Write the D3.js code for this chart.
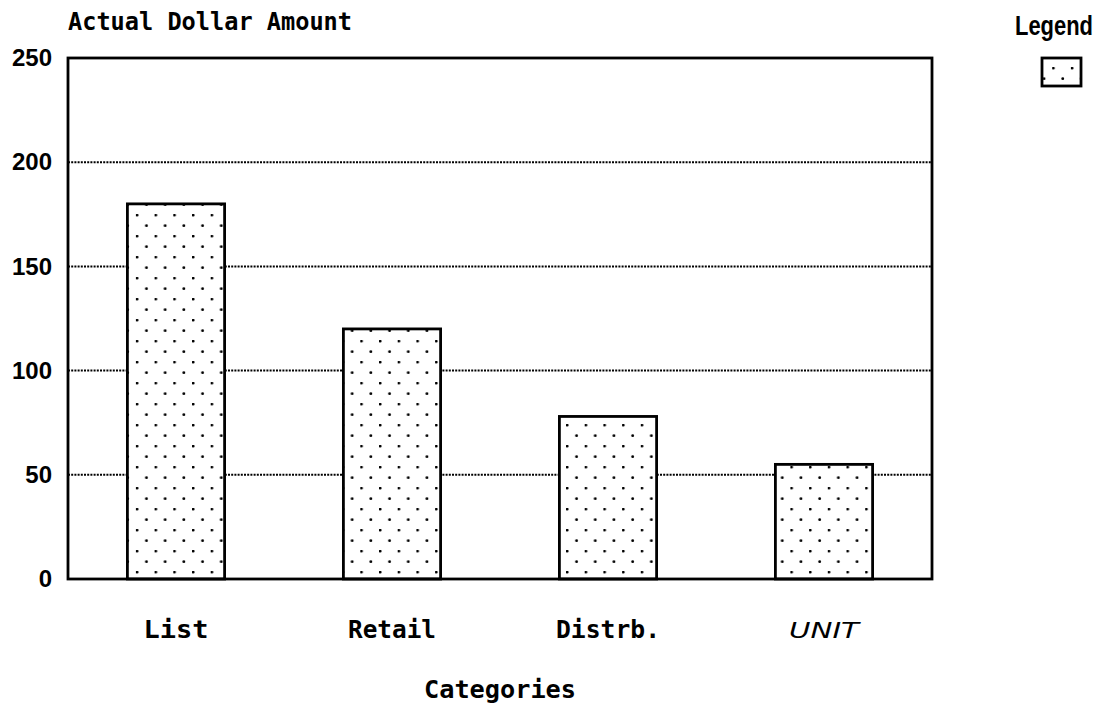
<!DOCTYPE html>
<html>
<head>
<meta charset="utf-8">
<script src="https://cdn.jsdelivr.net/npm/d3@7"></script>
<style>
  html, body { margin: 0; padding: 0; background: #fff; }
  svg { display: block; }
</style>
</head>
<body>
<div id="chart"></div>
<script>
// Chart data
const categories = ["List", "Retail", "Distrb.", "UNIT"];
const amounts = [180, 120, 78, 55];
const yTicks = [0, 50, 100, 150, 200, 250];

const width = 1114;
const height = 711;
const marginTop = 58;
const marginRight = 182;
const marginBottom = 132;
const marginLeft = 68;

const x = d3
  .scaleBand()
  .domain(categories)
  .range([marginLeft, width - marginRight])
  .paddingInner(0.55)
  .paddingOuter(0.275);

const y = d3
  .scaleLinear()
  .domain([0, 250])
  .range([height - marginBottom, marginTop]);

const labelWidths = { List: 65, Retail: 88, "Distrb.": 104, UNIT: 70 };

const svg = d3
  .create("svg")
  .attr("width", width)
  .attr("height", height)
  .attr("viewBox", [0, 0, width, height]);

// Dot fill pattern (staggered rows)
const defs = svg.append("defs");
const pat = defs
  .append("pattern")
  .attr("id", "dots")
  .attr("patternUnits", "userSpaceOnUse")
  .attr("width", 18.7)
  .attr("height", 21)
  .attr("x", 5)
  .attr("y", 4);
pat.append("rect").attr("width", 18.7).attr("height", 21).attr("fill", "#fff");
pat.append("circle").attr("cx", 1.2).attr("cy", 1.2).attr("r", 1.4).attr("fill", "#000");
pat.append("circle").attr("cx", 10.55).attr("cy", 11.7).attr("r", 1.4).attr("fill", "#000");

// Grid lines
svg
  .append("g")
  .selectAll("line")
  .data(yTicks.filter((d) => d > 0 && d < 250))
  .join("line")
  .attr("x1", marginLeft)
  .attr("x2", width - marginRight)
  .attr("y1", (d) => y(d))
  .attr("y2", (d) => y(d))
  .attr("stroke", "#000")
  .attr("stroke-width", 2)
  .attr("stroke-dasharray", "2,1.2");

// Bars
svg
  .append("g")
  .selectAll("rect")
  .data(amounts)
  .join("rect")
  .attr("x", (d, i) => x(categories[i]))
  .attr("y", (d) => y(d))
  .attr("width", x.bandwidth())
  .attr("height", (d) => y(0) - y(d))
  .attr("fill", "url(#dots)")
  .attr("stroke", "#000")
  .attr("stroke-width", 2.8);

// Plot frame
svg
  .append("rect")
  .attr("x", marginLeft)
  .attr("y", marginTop)
  .attr("width", width - marginRight - marginLeft)
  .attr("height", y(0) - marginTop)
  .attr("fill", "none")
  .attr("stroke", "#000")
  .attr("stroke-width", 2.8);

// Y axis labels
svg
  .append("g")
  .attr("transform", `translate(${marginLeft},0)`)
  .call(d3.axisLeft(y).tickValues(yTicks).tickSize(0).tickPadding(16))
  .call((g) => g.select(".domain").remove())
  .call((g) =>
    g
      .selectAll(".tick text")
      .attr("fill", "#000")
      .attr("font-size", "24px")
      .attr("font-weight", "700")
      .attr("font-family", "Liberation Sans, sans-serif"),
  );

// X axis labels
svg
  .append("g")
  .attr("transform", `translate(0,${y(0)})`)
  .call(d3.axisBottom(x).tickSize(0).tickPadding(0))
  .call((g) => g.select(".domain").remove())
  .call((g) =>
    g
      .selectAll(".tick text")
      .attr("dy", null)
      .attr("y", 59)
      .attr("fill", "#000")
      .attr("font-style", (d) => (d === "UNIT" ? "italic" : "normal"))
      .attr("font-family", (d) =>
        d === "UNIT" ? "DejaVu Sans, sans-serif" : "DejaVu Sans Mono, monospace",
      )
      .attr("font-weight", (d) => (d === "UNIT" ? "400" : "700"))
      .attr("font-size", (d) => (d === "UNIT" ? "21px" : "25px"))
      .attr("textLength", (d) => labelWidths[d])
      .attr("lengthAdjust", "spacingAndGlyphs"),
  );

// Titles
svg
  .append("text")
  .attr("x", marginLeft)
  .attr("y", 30)
  .attr("font-size", "25px")
  .attr("font-weight", "700")
  .attr("font-family", "DejaVu Sans Mono, monospace")
  .attr("textLength", 284)
  .attr("lengthAdjust", "spacingAndGlyphs")
  .text("Actual Dollar Amount");

svg
  .append("text")
  .attr("x", (marginLeft + width - marginRight) / 2)
  .attr("y", 698)
  .attr("text-anchor", "middle")
  .attr("font-size", "25px")
  .attr("font-weight", "700")
  .attr("font-family", "DejaVu Sans Mono, monospace")
  .attr("textLength", 152)
  .attr("lengthAdjust", "spacingAndGlyphs")
  .text("Categories");

// Legend
svg
  .append("text")
  .attr("x", 1054)
  .attr("y", 35)
  .attr("text-anchor", "middle")
  .attr("font-size", "27px")
  .attr("font-weight", "700")
  .attr("font-family", "Liberation Sans, sans-serif")
  .attr("textLength", 78)
  .attr("lengthAdjust", "spacingAndGlyphs")
  .text("Legend");

svg
  .append("rect")
  .attr("x", 1042)
  .attr("y", 58)
  .attr("width", 39)
  .attr("height", 28)
  .attr("fill", "url(#dots)")
  .attr("stroke", "#000")
  .attr("stroke-width", 2.8);

document.getElementById("chart").appendChild(svg.node());
</script>
</body>
</html>
